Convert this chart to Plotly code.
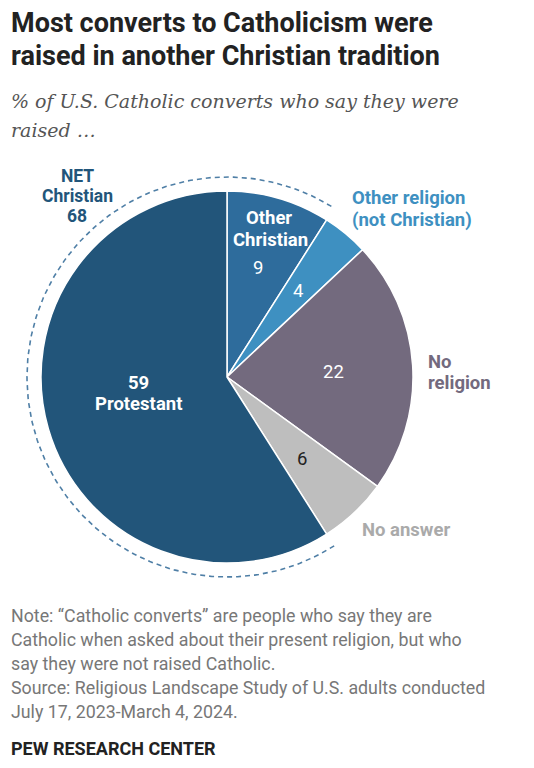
import math
import plotly.graph_objects as go

VW, VH = 534, 768      # browser window
OFF = 8                # page body margin
W, H = VW - OFF, VH - OFF

# ---- data ----
categories = ["Other Christian", "Other religion (not Christian)", "No religion", "No answer", "Protestant"]
values = [9, 4, 22, 6, 59]
colors = ["#2E6C9C", "#3E90C1", "#736A7E", "#BEBEBE", "#22557A"]
net_christian_members = ["Protestant", "Other Christian"]
net_christian_value = 68

title_lines = ["Most converts to Catholicism were", "raised in another Christian tradition"]
subtitle_lines = ["% of U.S. Catholic converts who say they were", "raised \u2026"]
note_lines = [
    "Note: \u201cCatholic converts\u201d are people who say they are",
    "Catholic when asked about their present religion, but who",
    "say they were not raised Catholic.",
    "Source: Religious Landscape Study of U.S. adults conducted",
    "July 17, 2023-March 4, 2024.",
]
brand = "PEW RESEARCH CENTER"

# ---- geometry (screen px) ----
cx, cy, r = 227, 377, 186
R_dash = 200

fig = go.Figure()

fx = cx - OFF
fy = cy - OFF
fig.add_trace(go.Pie(
    labels=categories, values=values, sort=False, direction="clockwise", rotation=0,
    marker=dict(colors=colors, line=dict(color="white", width=1.5)),
    textinfo="none", hoverinfo="label+value", showlegend=False,
    domain=dict(x=[(fx - r) / W, (fx + r) / W], y=[(H - fy - r) / H, (H - fy + r) / H]),
))

# dashed arc around NET Christian (Protestant + Other Christian), computed from data
total = sum(values)
start_frac = sum(values[:categories.index("Protestant")]) / total
end_frac = 1 + values[categories.index("Other Christian")] / total
n = 200
xs, ys = [], []
for i in range(n + 1):
    f = start_frac + (end_frac - start_frac) * i / n
    th = 2 * math.pi * f
    xs.append(cx + R_dash * math.sin(th))
    ys.append(cy - R_dash * math.cos(th))
fig.add_trace(go.Scatter(x=xs, y=ys, mode="lines", hoverinfo="skip", showlegend=False,
                         line=dict(color="#4F7FA6", width=1.6, dash="5px,4px")))

ann = []
def txt(x, y, s, size, color, bold=False, family="Roboto", xanchor="center", italic=False):
    if bold:
        s = "<b>" + s + "</b>"
    if italic:
        s = "<i>" + s + "</i>"
    ann.append(dict(x=x, y=y, xref="x", yref="y", text=s, showarrow=False,
                    xanchor=xanchor, yanchor="middle",
                    font=dict(size=size, color=color, family=family)))

# titles
txt(9, 23, title_lines[0], 27, "#222222", bold=True, xanchor="left")
txt(9, 56, title_lines[1], 27, "#222222", bold=True, xanchor="left")
txt(9, 101, subtitle_lines[0], 19, "#555555", family="DejaVu Serif", xanchor="left", italic=True)
txt(9, 130, subtitle_lines[1], 19, "#555555", family="DejaVu Serif", xanchor="left", italic=True)

LS = 18.5
# labels
txt(77, 176, "NET", 17.5, "#22557A", bold=True)
txt(77, 196, "Christian", 17.5, "#22557A", bold=True)
txt(77, 216, str(net_christian_value), 17.5, "#22557A", bold=True)

txt(269, 218, "Other", LS, "white", bold=True)
txt(270, 240, "Christian", LS, "white", bold=True)
txt(258, 268, str(values[0]), LS, "white")
txt(298, 291, str(values[1]), LS, "white")
txt(350, 198, "Other religion", LS, "#3E90C1", bold=True, xanchor="left")
txt(350, 220, "(not Christian)", LS, "#3E90C1", bold=True, xanchor="left")
txt(333, 372, str(values[2]), LS, "white")
txt(426, 362, "No", LS, "#736A7E", bold=True, xanchor="left")
txt(426, 383, "religion", LS, "#736A7E", bold=True, xanchor="left")
txt(302, 459, str(values[3]), LS, "#222222")
txt(360, 530, "No answer", LS, "#AAAAAA", bold=True, xanchor="left")
txt(138, 383, str(values[4]), LS, "white", bold=True)
txt(138, 404, "Protestant", LS, "white", bold=True)

# notes
for i, line in enumerate(note_lines):
    txt(9, 615 + i * 24, line, 17.8, "#777777", xanchor="left")
txt(9, 748, brand, 18, "#222222", bold=True, xanchor="left")

fig.update_layout(
    width=W, height=H, margin=dict(l=0, r=0, t=0, b=0),
    paper_bgcolor="white", plot_bgcolor="rgba(0,0,0,0)",
    xaxis=dict(range=[OFF, VW], visible=False, fixedrange=True),
    yaxis=dict(range=[VH, OFF], visible=False, fixedrange=True),
    annotations=ann,
)
fig.write_html("out.html")
